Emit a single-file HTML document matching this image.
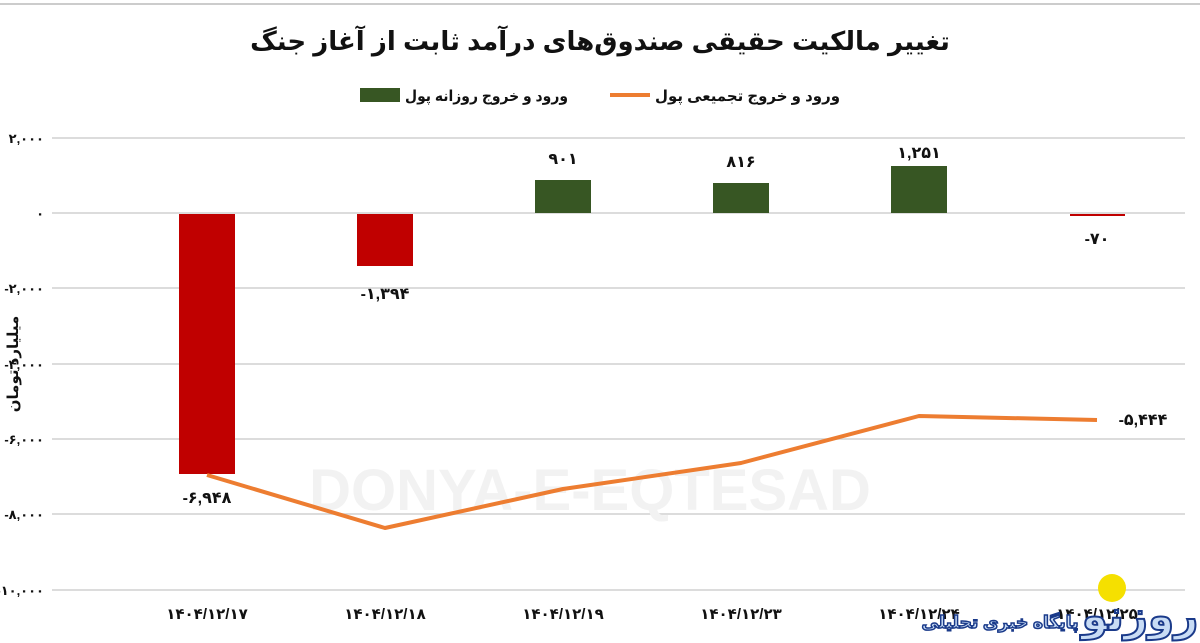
<!DOCTYPE html><html><head><meta charset="utf-8"><style>body{margin:0;background:#fff}svg{display:block}</style></head><body>
<svg width="1200" height="643" xmlns="http://www.w3.org/2000/svg" font-family="'Liberation Sans','DejaVu Sans',sans-serif">
<rect width="1200" height="643" fill="#fff"/>
<line x1="0" y1="4" x2="1200" y2="4" stroke="#ccc" stroke-width="2"/>
<text x="600" y="50" text-anchor="middle" font-size="26" font-weight="bold" fill="#111">تغییر مالکیت حقیقی صندوق‌های درآمد ثابت از آغاز جنگ</text>
<rect x="360" y="88" width="40" height="14" fill="#375623"/>
<text x="405" y="101" font-size="15" font-weight="bold" fill="#111" textLength="163" lengthAdjust="spacingAndGlyphs">ورود و خروج روزانه پول</text>
<rect x="610" y="93" width="40" height="4" fill="#ed7d31"/>
<text x="655" y="101" font-size="15" font-weight="bold" fill="#111" textLength="185" lengthAdjust="spacingAndGlyphs">ورود و خروج تجمیعی پول</text>
<g stroke="#d0d0d0" stroke-width="1.5">
<line x1="52" y1="138" x2="1185" y2="138"/><line x1="52" y1="213" x2="1185" y2="213"/><line x1="52" y1="288" x2="1185" y2="288"/><line x1="52" y1="364" x2="1185" y2="364"/><line x1="52" y1="439" x2="1185" y2="439"/><line x1="52" y1="514" x2="1185" y2="514"/><line x1="52" y1="590" x2="1185" y2="590"/>
</g>
<g font-size="13" font-weight="bold" fill="#111" text-anchor="end">
<text x="44" y="143">۲,۰۰۰</text><text x="44" y="218">۰</text><text x="44" y="293">-۲,۰۰۰</text><text x="44" y="369">-۴,۰۰۰</text><text x="44" y="444">-۶,۰۰۰</text><text x="44" y="519">-۸,۰۰۰</text><text x="44" y="595">-۱۰,۰۰۰</text>
</g>
<text transform="translate(18,364) rotate(-90)" text-anchor="middle" font-size="15" font-weight="bold" fill="#111">میلیارد تومان</text>
<text x="590" y="510" text-anchor="middle" font-size="58" font-weight="bold" fill="#f2f2f2">DONYA-E-EQTESAD</text>
<rect x="179" y="214" width="56" height="260" fill="#c00000"/>
<rect x="357" y="214" width="56" height="52" fill="#c00000"/>
<rect x="535" y="180" width="56" height="33" fill="#375623"/>
<rect x="713" y="183" width="56" height="30" fill="#375623"/>
<rect x="891" y="166" width="56" height="47" fill="#375623"/>
<rect x="1070" y="214" width="55" height="2" fill="#c00000"/>
<polyline points="207,475 385,528 563,489 741,463 919,416 1097,420" fill="none" stroke="#ed7d31" stroke-width="4" stroke-linejoin="round"/>
<g font-size="16" font-weight="bold" fill="#111" text-anchor="middle">
<text x="563" y="164">۹۰۱</text><text x="741" y="167">۸۱۶</text><text x="919" y="158">۱,۲۵۱</text>
<text x="385" y="299">-۱,۳۹۴</text><text x="1097" y="244">-۷۰</text>
<text x="207" y="503">-۶,۹۴۸</text><text x="1143" y="425">-۵,۴۴۴</text>
</g>
<g font-size="15" font-weight="bold" fill="#111" text-anchor="middle">
<text x="207" y="619">۱۴۰۴/۱۲/۱۷</text><text x="385" y="619">۱۴۰۴/۱۲/۱۸</text><text x="563" y="619">۱۴۰۴/۱۲/۱۹</text><text x="741" y="619">۱۴۰۴/۱۲/۲۳</text><text x="919" y="619">۱۴۰۴/۱۲/۲۴</text><text x="1097" y="619">۱۴۰۴/۱۲/۲۵</text>
</g>
<circle cx="1112" cy="588" r="14" fill="#f5e000"/>
<text x="1140" y="630" text-anchor="middle" font-size="42" font-weight="bold" fill="#c8dcf5" stroke="#1a3a8a" stroke-width="2">روزنو</text>
<text x="1000" y="628" text-anchor="middle" font-size="17" font-weight="bold" fill="#c8dcf5" stroke="#1a3a8a" stroke-width="1.5">پایگاه خبری تحلیلی</text>
</svg>
</body></html>
